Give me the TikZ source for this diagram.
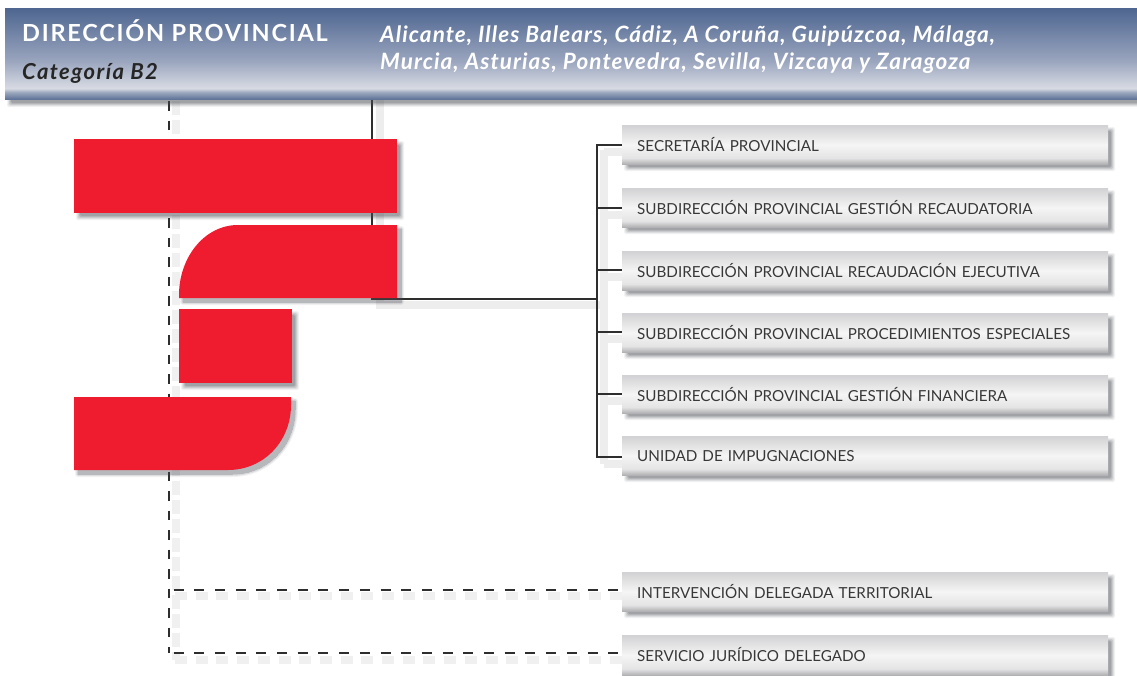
\documentclass[tikz,border=0pt]{standalone}
\usepackage{fontspec}
\setmainfont{Lato}
\definecolor{redbox}{HTML}{EE1C2E}
\definecolor{linecol}{HTML}{2E2E2E}
\definecolor{shadowc}{HTML}{4A4D55}
\definecolor{bandA}{HTML}{5F7397}
\definecolor{bandB}{HTML}{9BA7BD}
\definecolor{bandC}{HTML}{D8DBE3}
\definecolor{bandD}{HTML}{9AA5BE}
\definecolor{bandE}{HTML}{4E6690}
\definecolor{cardA}{HTML}{B0B0B2}
\definecolor{cardB}{HTML}{E4E4E5}
\definecolor{cardC}{HTML}{F5F5F5}
\definecolor{cardD}{HTML}{D2D2D4}
\pgfdeclareverticalshading{bandshade}{100bp}{
 color(0bp)=(bandA);
 color(25bp)=(bandA);
 color(28.8bp)=(bandB);
 color(31bp)=(bandC);
 color(46bp)=(bandD);
 color(75bp)=(bandE);
 color(100bp)=(bandE)}
\pgfdeclareverticalshading{cardshade}{100bp}{
 color(0bp)=(cardA);
 color(25bp)=(cardA);
 color(33bp)=(cardB);
 color(50bp)=(cardC);
 color(75bp)=(cardD);
 color(100bp)=(cardD)}
\newcommand{\softshade}[4]{%
 \foreach \g/\o in {3/0.07,2/0.10,1/0.13,0/0.16,-1/0.20}{%
  \fill[shadowc,opacity=\o,rounded corners=1.5pt]
   (#1+5-\g,#2+5-\g) rectangle (#3+4+\g,#4+4+\g);}}
\newcommand{\softcurve}[1]{%
 \foreach \g/\o in {3/0.07,2/0.10,1/0.13,0/0.16}{%
  \begin{scope}[transparency group,opacity=\o]
  \path[shift={(4pt,-4pt)},fill=shadowc,draw=shadowc,line width=2*\g pt,line join=round] #1;
  \end{scope}}}
\newcommand{\cardbox}[4]{%
 \node[cardstyle,anchor=north west,minimum height=#3] (#1) at (622,#2) {#4};}
\tikzset{
 x=1pt,y=-1pt,
 cardstyle/.style={shading=cardshade,minimum width=486pt,inner xsep=15pt,inner ysep=0pt,
   text width=456pt,align=left,font=\fontsize{15.2}{16}\selectfont,text=black!78},
 redstyle/.style={fill=redbox,draw=none,inner sep=0pt,anchor=north west},
 link/.style={draw=linecol,line width=1.3pt},
 dashv/.style={draw=linecol,line width=1.5pt,dash pattern=on 9.5pt off 10pt},
 dashh/.style={draw=linecol,line width=1.6pt,dash pattern=on 10pt off 10.7pt},
 glow/.style={draw=black!7,line width=8pt},
 glowdash/.style={draw=black!6,line width=8pt,dash pattern=on 12pt off 8.7pt},
}
\begin{document}
\begin{tikzpicture}
\useasboundingbox (0,0) rectangle (1137,675);
\fill[white] (0,0) rectangle (1137,675);
% connector coordinates
\coordinate (dashtop) at (169,101);
\coordinate (soltop) at (372,100);
\coordinate (solknee) at (372,299);
\coordinate (bus) at (597,299);
\coordinate (c1) at (622,145);
\coordinate (c2) at (622,208);
\coordinate (c3) at (622,270);
\coordinate (c4) at (622,332);
\coordinate (c5) at (622,394);
\coordinate (c6) at (622,457);
\coordinate (c7) at (622,590);
\coordinate (c8) at (622,653);
\coordinate (bustop) at (597,145);
\coordinate (busbot) at (597,457);
\coordinate (dashbot) at (169,653);
\coordinate (dashmid) at (169,590);
% connector glows
\draw[glowdash,dash pattern=on 14pt off 5pt] (176,101) -- (176,660);
\draw[glow] (380,100) -- (380,305) -- (604,305);
\draw[glow] (604,150) -- (604,464);
\foreach \yy in {152,215,277,339,401,464}{\draw[glow] (604,\yy) -- (622,\yy);}
\draw[glowdash] (175,596) -- (622,596);
\draw[glowdash] (175,660) -- (622,660);
% connectors
\draw[dashv] (dashtop) -- (dashbot);
\draw[dashh] (173.5,590) -- (c7);
\draw[dashh] (173.5,653) -- (c8);
\draw[link] (soltop) -- (solknee) -- (bus);
\draw[link] ([yshift=0.6pt]bustop) -- ([yshift=-0.6pt]busbot);
\foreach \n in {1,...,6}{\draw[link] (c\n) -- (c\n -| bus);}
% header
\softshade{5}{8}{1137}{100}
\node[shading=bandshade,minimum width=1132pt,minimum height=91pt,inner sep=0pt,anchor=north west] (header) at (5,8) {};
\node[anchor=base west,inner sep=0pt,text=white,font=\fontsize{23.5}{26}\selectfont\addfontfeatures{LetterSpace=7.5}\bfseries] (title) at (22,41) {DIRECCIÓN PROVINCIAL};
\node[anchor=base west,inner sep=0pt,text=black!85,font=\fontsize{22}{24}\selectfont\addfontfeatures{LetterSpace=6.5}\bfseries\itshape] (cat) at (22,79) {Categoría B2};
\node[anchor=base west,inner sep=0pt,text=white,font=\fontsize{22.5}{24}\selectfont\addfontfeatures{LetterSpace=4.7}\itshape\bfseries] (city1) at (380,42) {Alicante, Illes Balears, Cádiz, A Coruña, Guipúzcoa, Málaga,};
\node[anchor=base west,inner sep=0pt,text=white,font=\fontsize{22.5}{24}\selectfont\addfontfeatures{LetterSpace=4.7}\itshape\bfseries] (city2) at (380,69) {Murcia, Asturias, Pontevedra, Sevilla, Vizcaya y Zaragoza};
% red shapes
\softshade{74}{139}{397}{213}
\node[redstyle,minimum width=323pt,minimum height=74pt] (r1) at (74,139) {};
\softcurve{(179,298) -- (179,295) .. controls (179,258) and (204,225) .. (238,225) -- (397,225) -- (397,298) -- cycle}
\path[fill=redbox] (179,298) -- (179,295) .. controls (179,258) and (204,225) .. (238,225) -- (397,225) -- (397,298) -- cycle;
\softshade{179}{309}{292}{383}
\node[redstyle,minimum width=113pt,minimum height=74pt] (r3) at (179,309) {};
\softcurve{(74,397) -- (291,397) -- (291,405) .. controls (291,441) and (264,470) .. (228,470) -- (74,470) -- cycle}
\path[fill=redbox] (74,397) -- (291,397) -- (291,405) .. controls (291,441) and (264,470) .. (228,470) -- (74,470) -- cycle;
% cards
\foreach \yt/\h in {125/39,188/39,251/39,313/39,375/38,436/39,572/39,635/40}{\softshade{622}{\yt}{1108}{\yt+\h}}
\cardbox{b1}{125}{39pt}{SECRETARÍA PROVINCIAL}
\cardbox{b2}{188}{39pt}{SUBDIRECCIÓN PROVINCIAL GESTIÓN RECAUDATORIA}
\cardbox{b3}{251}{39pt}{SUBDIRECCIÓN PROVINCIAL RECAUDACIÓN EJECUTIVA}
\cardbox{b4}{313}{39pt}{SUBDIRECCIÓN PROVINCIAL PROCEDIMIENTOS ESPECIALES}
\cardbox{b5}{375}{38pt}{SUBDIRECCIÓN PROVINCIAL GESTIÓN FINANCIERA}
\cardbox{b6}{436}{39pt}{UNIDAD DE IMPUGNACIONES}
\cardbox{b7}{572}{39pt}{INTERVENCIÓN DELEGADA TERRITORIAL}
\cardbox{b8}{635}{40pt}{\raisebox{1.5pt}{SERVICIO JURÍDICO DELEGADO}}
\end{tikzpicture}
\end{document}
